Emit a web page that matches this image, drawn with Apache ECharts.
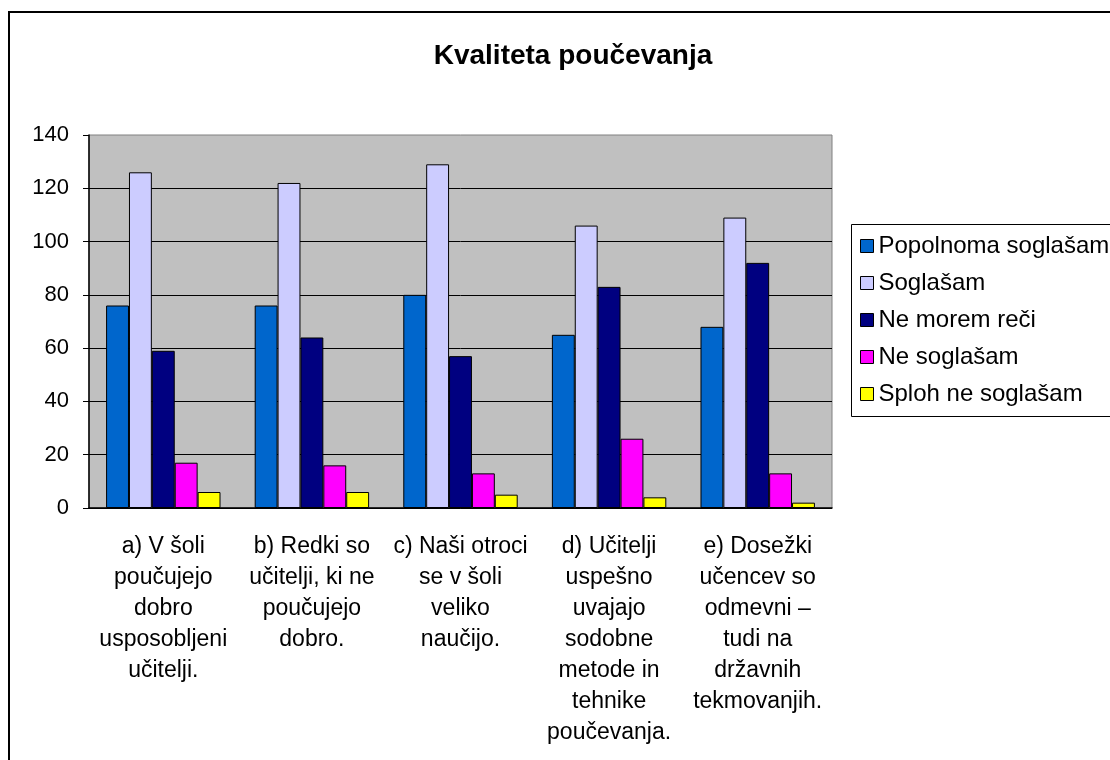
<!DOCTYPE html>
<html>
<head>
<meta charset="utf-8">
<script src="https://cdn.jsdelivr.net/npm/echarts@6/dist/echarts.min.js"></script>
<style>
  html, body { margin: 0; padding: 0; background: #fff; }
  #chart { width: 1110px; height: 760px; }
</style>
</head>
<body>
<div id="chart"></div>
<script>
var categories = [
    'a) V šoli\npoučujejo\ndobro\nusposobljeni\nučitelji.',
    'b) Redki so\nučitelji, ki ne\npoučujejo\ndobro.',
    'c) Naši otroci\nse v šoli\nveliko\nnaučijo.',
    'd) Učitelji\nuspešno\nuvajajo\nsodobne\nmetode in\ntehnike\npoučevanja.',
    'e) Dosežki\nučencev so\nodmevni –\ntudi na\ndržavnih\ntekmovanjih.'
];
var seriesNames = ['Popolnoma soglašam', 'Soglašam', 'Ne morem reči', 'Ne soglašam', 'Sploh ne soglašam'];
var popolnoma = [76, 76, 80, 65, 68];
var soglasam = [126, 122, 129, 106, 109];
var neMorem = [59, 64, 57, 83, 92];
var neSoglasam = [17, 16, 13, 26, 13];
var sploh = [6, 6, 5, 4, 2];
var yTicks = [0, 20, 40, 60, 80, 100, 120, 140];

var colors = ['#0066CC', '#CCCCFF', '#000080', '#FF00FF', '#FFFF00'];
var values = [popolnoma, soglasam, neMorem, neSoglasam, sploh];
var font = '"Liberation Sans", Arial, sans-serif';

var series = [];
for (var i = 0; i < seriesNames.length; i++) {
    series.push({
        name: seriesNames[i],
        type: 'bar',
        barGap: '0%',
        barCategoryGap: '23%',
        itemStyle: { color: colors[i], borderColor: '#000', borderWidth: 1 },
        data: values[i]
    });
}

var myChart = echarts.init(document.getElementById('chart'));
var option = {
    animation: false,
    color: colors,
    title: {
        text: 'Kvaliteta poučevanja',
        left: 568,
        top: 37,
        textAlign: 'center',
        textStyle: { fontFamily: font, fontSize: 28, fontWeight: 'bold', color: '#000' }
    },
    legend: {
        orient: 'vertical',
        left: 851,
        top: 224,
        padding: [10, 0, 11, 9],
        itemGap: 13,
        itemWidth: 13,
        itemHeight: 13,
        icon: 'rect',
        borderWidth: 0,
        itemStyle: { borderColor: '#000', borderWidth: 1 },
        textStyle: { fontFamily: font, fontSize: 24, lineHeight: 24, color: '#000' },
        data: seriesNames
    },
    grid: {
        left: 89,
        top: 135,
        width: 743,
        height: 373,
        show: true,
        backgroundColor: '#C0C0C0',
        borderColor: '#808080',
        borderWidth: 1
    },
    xAxis: {
        type: 'category',
        data: categories,
        axisLine: { lineStyle: { color: '#000', width: 1.5 } },
        axisTick: { length: 6, lineStyle: { color: '#000' } },
        axisLabel: {
            interval: 0,
            margin: 23,
            fontFamily: font,
            fontSize: 23,
            lineHeight: 31,
            color: '#000',
            align: 'center'
        }
    },
    yAxis: {
        type: 'value',
        min: yTicks[0],
        max: yTicks[yTicks.length - 1],
        interval: 20,
        axisLine: { show: true, lineStyle: { color: '#000', width: 1.5 } },
        axisTick: { show: true, length: 6, lineStyle: { color: '#000' } },
        axisLabel: { margin: 20, fontFamily: font, fontSize: 22, color: '#000' },
        splitLine: { show: true, showMaxLine: false, lineStyle: { color: '#000', width: 1 } }
    },
    graphic: [{
        type: 'rect',
        shape: { x: 9, y: 12, width: 1200, height: 800 },
        style: { fill: 'none', stroke: '#000', lineWidth: 2 },
        silent: true
    }, {
        // legend frame runs past the right edge like in the original
        type: 'rect',
        shape: { x: 851.5, y: 224.5, width: 300, height: 192 },
        style: { fill: 'none', stroke: '#000', lineWidth: 1 },
        silent: true
    }],
    series: series
};
myChart.setOption(option);
</script>
</body>
</html>
